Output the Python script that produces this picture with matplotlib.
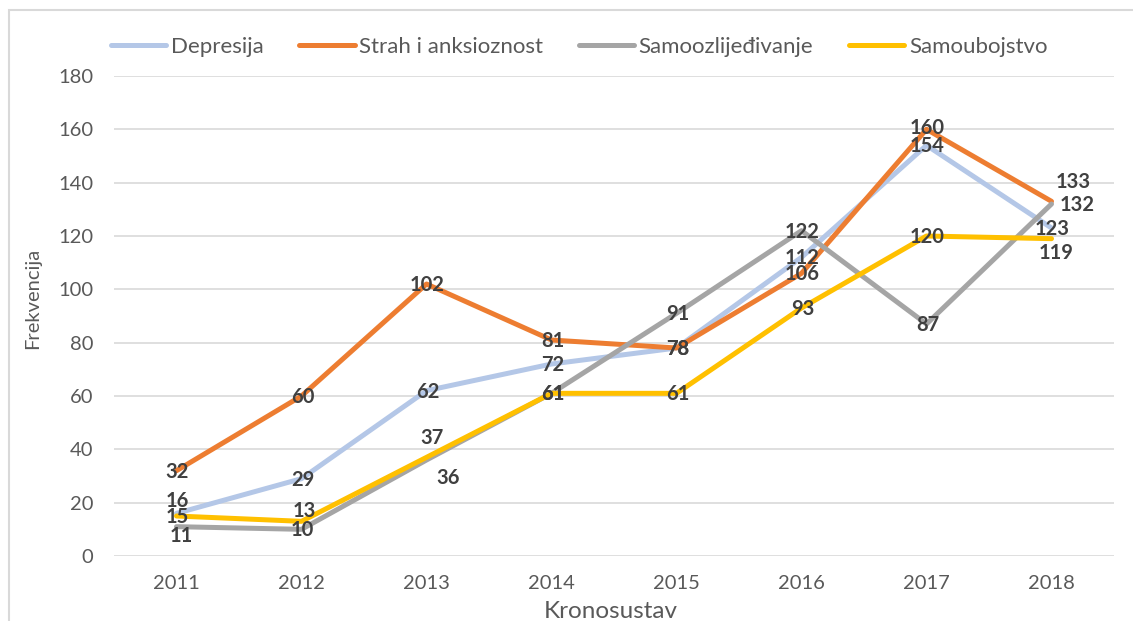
import matplotlib
matplotlib.use("Agg")
import matplotlib.pyplot as plt
from matplotlib.patches import Rectangle

years = ["2011", "2012", "2013", "2014", "2015", "2016", "2017", "2018"]
depresija = [16, 29, 62, 72, 78, 112, 154, 123]
strah = [32, 60, 102, 81, 78, 106, 160, 133]
samoozljedivanje = [11, 10, 36, 61, 91, 122, 87, 132]
samoubojstvo = [15, 13, 37, 61, 61, 93, 120, 119]
series_names = ["Depresija", "Strah i anksioznost", "Samoozlijeđivanje", "Samoubojstvo"]
yticks = [0, 20, 40, 60, 80, 100, 120, 140, 160, 180]

colors = ["#B4C7E7", "#ED7D31", "#A5A5A5", "#FFC000"]
# label offsets in pixels (dx, dy) for manually moved data labels: (series, index)
label_offsets = {
    (0, 0): (0, 13),
    (1, 6): (0, 2),
    (1, 7): (21, 20),
    (2, 0): (4, -8),
    (2, 2): (21, -17),
    (2, 7): (25, 0),
    (3, 1): (2, 11),
    (3, 2): (4, 20),
    (3, 7): (4, -13),
}

plt.rcParams['font.family'] = ['Lato', 'DejaVu Sans']
fig = plt.figure(figsize=(11.33, 6.21), dpi=100)
W, H = 1133, 621
ax = fig.add_axes([114 / W, 1 - 556 / H, 1000 / W, 480 / H])

data = [depresija, strah, samoozljedivanje, samoubojstvo]
x = list(range(len(years)))
for i, (vals, name, c) in enumerate(zip(data, series_names, colors)):
    ax.plot(x, vals, color=c, lw=3.6, label=name, solid_capstyle='round',
            solid_joinstyle='round', zorder=3 + i)

for i, vals in enumerate(data):
    for j, v in enumerate(vals):
        dx, dy = label_offsets.get((i, j), (0, 0))
        ax.annotate(str(v), (j, v), xytext=(dx + 1, dy - 1), textcoords='offset pixels',
                    ha='center', va='center', fontsize=14.5, fontweight='bold',
                    color='#404040', zorder=10)

ax.set_xlim(-0.5, len(years) - 0.5)
ax.set_ylim(0, 180)
ax.set_yticks(yticks)
ax.set_xticks(x)
ax.set_xticklabels(years)
ax.grid(axis='y', color='#D9D9D9', lw=1.2)
ax.set_axisbelow(True)
for s in ax.spines.values():
    s.set_visible(False)
ax.tick_params(length=0, labelsize=14.5, labelcolor='#595959')
ax.tick_params(axis='y', pad=15)
ax.tick_params(axis='x', pad=14)

fig.text(33 / W, 1 - 298 / H, "Frekvencija", rotation=90, ha='center', va='center',
         fontsize=14.5, color='#595959')
fig.text(611 / W, 1 - 611 / H, "Kronosustav", ha='center', va='center',
         fontsize=17.5, color='#595959')

leg = fig.legend(loc='center left', bbox_to_anchor=(102 / W, 1 - 47 / H), ncol=4,
                 frameon=False, fontsize=16, handlelength=2.5, handletextpad=0.2,
                 columnspacing=1.6, borderaxespad=0)
for t in leg.get_texts():
    t.set_color('#595959')

fig.patches.append(Rectangle((9 / W, -0.1), 1.2, 1 - 10 / H + 0.1, transform=fig.transFigure,
                             fill=False, edgecolor='#D9D9D9', lw=1.5))

fig.savefig("out.png", dpi=100)
